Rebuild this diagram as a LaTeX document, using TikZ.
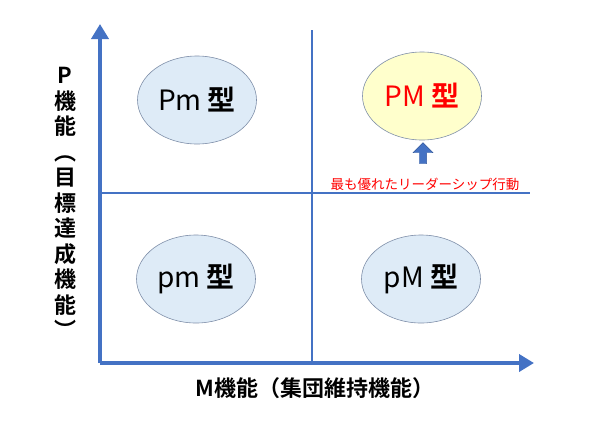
\documentclass[tikz,border=0pt]{standalone}
\usepackage{fontspec}
\setmainfont{Noto Sans CJK JP}[BoldFont={Noto Sans CJK JP Bold}]
\usetikzlibrary{arrows.meta, shapes.geometric, shapes.arrows, positioning}
\definecolor{axisblue}{HTML}{4472C4}
\definecolor{cellfill}{HTML}{DEEBF7}
\definecolor{cellline}{HTML}{7F8FA9}
\definecolor{bestfill}{HTML}{FFFFCC}
\newcommand{\kata}{\textbf{型}}

\begin{document}
\begin{tikzpicture}[
    x=1pt, y=-1pt,
    cell/.style={ellipse, draw=cellline, line width=0.6pt, fill=cellfill, minimum width=119pt, minimum height=88pt, inner sep=0pt, font=\fontsize{28}{30}\selectfont},
    axis/.style={draw=axisblue, line width=4pt, -{Triangle[length=15pt, width=17pt]}},
    divider/.style={draw=axisblue, line width=1.2pt},
    axislabel/.style={font=\fontsize{22}{25.5}\selectfont\bfseries, inner sep=0pt},
    vchar/.style={axislabel, text height=16pt, text depth=3pt}
]
\useasboundingbox (0,0) rectangle (596,421);

% 座標軸
\coordinate (origin) at (100,363);
\coordinate (ytip) at (100,24);
\coordinate (xtip) at (534,363);
\draw[axis] (origin) -- (ytip);
\draw[axis] (origin) -- (xtip);

% 区切り線
\coordinate (vtop) at (312,30);
\coordinate (vbot) at (312,361);
\coordinate (hleft) at (102,193);
\coordinate (hright) at (530,193);
\draw[divider] (vtop) -- (vbot);
\draw[divider] (hleft) -- (hright);

% 4つの型
\node[cell] (Pm) at (197,100) {Pm \kata};
\node[cell, fill=bestfill, text=red] (PM) at (422,96) {PM \kata};
\node[cell] (pm) at (196,279) {pm \kata};
\node[cell] (pM) at (421,279) {pM \kata};

% 注記
\node[font=\fontsize{13.5}{15}\selectfont, text=red] (best) at (425,184) {最も優れたリーダーシップ行動};
\node[single arrow, shape border rotate=90, fill=axisblue, draw=axisblue!80!black, line width=0.4pt,
      minimum width=20pt, single arrow head extend=4pt, single arrow head indent=0pt,
      minimum height=21pt, inner sep=2pt] (up) at (423,155) {};

% 軸ラベル (縦書き)
\foreach \ch [count=\i] in {P, 機, 能, ︵, 目, 標, 達, 成, 機, 能, ︶}
  \node[vchar] (y\i) at (65,{77+25.5*(\i-1)}) {\ch};
\node[axislabel] (xlabel) at (315,388) {M機能（集団維持機能）};
\end{tikzpicture}
\end{document}
